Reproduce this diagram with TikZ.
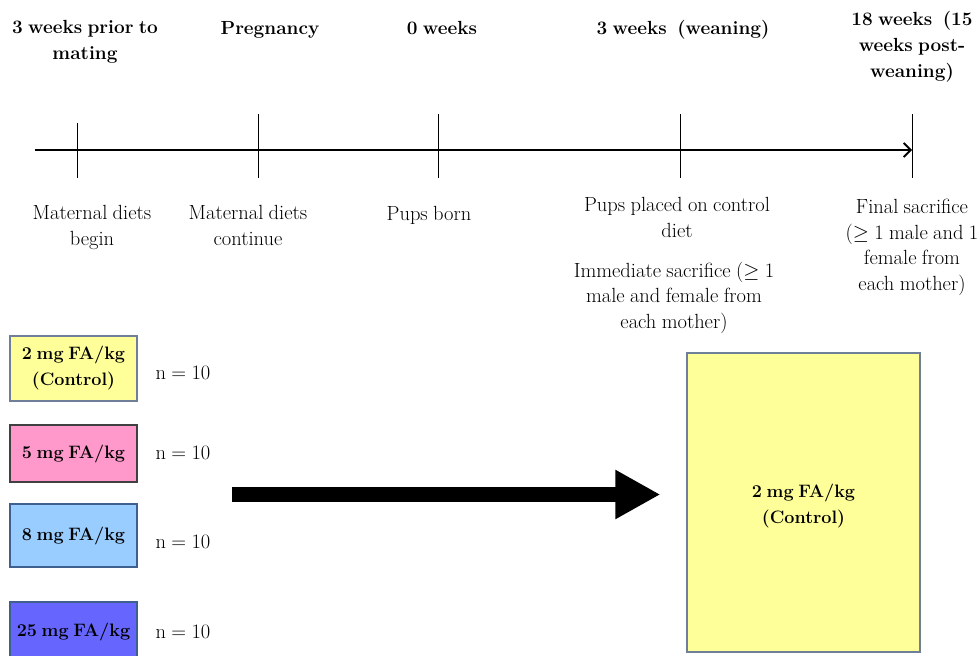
\documentclass[tikz,border=0pt]{standalone}
\usetikzlibrary{arrows.meta}
\definecolor{cYellow}{HTML}{FFFF99}
\definecolor{cPink}{HTML}{FF99CC}
\definecolor{cLBlue}{HTML}{99CCFF}
\definecolor{cBlue}{HTML}{6666FF}
\definecolor{bYellow}{HTML}{6F7F99}
\definecolor{bPink}{HTML}{404040}
\definecolor{bBlue}{HTML}{3F5F8F}
\newcommand{\hdrfont}{\fontsize{19}{26}\selectfont\bfseries\spaceskip=0.28em plus 0.1em}
\newcommand{\lblfont}{\fontsize{20.5}{25.5}\selectfont\spaceskip=0.26em plus 0.1em}
\newcommand{\boxfont}{\fontsize{18}{26}\selectfont\bfseries\spaceskip=0.26em plus 0.1em}
\tikzset{
  hdr/.style={font=\hdrfont, align=center, inner sep=0pt, anchor=base},
  lbl/.style={font=\lblfont, align=center, inner sep=0pt, anchor=base},
  diet/.style={draw, line width=1.2pt, font=\boxfont, align=center, inner sep=0pt, minimum width=127pt},
  nlbl/.style={font=\lblfont, inner sep=0pt},
  tick/.style={line width=1pt},
}
\begin{document}
\begin{tikzpicture}[x=1pt,y=1pt]
\useasboundingbox (0,0) rectangle (980,-656);
\clip (0,0) rectangle (980,-656);
% headers (anchor = baseline of the last line)
\node[hdr] (h1) at (85,-59.5) {3 weeks prior to\\mating};
\node[hdr] (h2) at (270,-34) {Pregnancy};
\node[hdr] (h3) at (442,-34) {0 weeks};
\node[hdr] (h4) at (683,-34) {3 weeks\ \ (weaning)};
\node[hdr] (h5) at (912,-77) {18 weeks\ \ (15\\weeks post-\\weaning)};
% timeline
\coordinate (tl0) at (35,-150);
\coordinate (tl1) at (912,-150);
\draw[line width=1.8pt, -{Straight Barb[length=7pt,width=14pt,line width=1.8pt]}] (tl0) -- (tl1);
\foreach \n/\x/\t in {a/77/-123, b/258/-114, c/438/-114, d/680/-114, e/912/-114}{
  \coordinate (tk\n top) at (\x,\t);
  \coordinate (tk\n bot) at (\x,-178);
  \draw[tick] (tk\n top) -- (tk\n bot);
}
% labels below timeline (anchor = baseline of the last line)
\node[lbl] (l1) at (92,-245) {Maternal diets\\begin};
\node[lbl] (l2) at (248,-245) {Maternal diets\\continue};
\node[lbl] (l3) at (429,-220.5) {Pups born};
\node[lbl] (l4) at (677,-237) {Pups placed on control\\diet};
\node[lbl] (l5) at (674,-328) {Immediate sacrifice ($\geq$ 1\\male and female from\\each mother)};
\node[lbl] (l6) at (912,-290) {Final sacrifice\\($\geq$ 1 male and 1\\female from\\each mother)};
% diet boxes
\node[diet, fill=cYellow, draw=bYellow, minimum height=65pt] (b1) at (73.5,-368.5) {2 mg FA/kg\\(Control)};
\node[diet, fill=cPink, draw=bPink, minimum height=57pt] (b2) at (73.5,-453.5) {5 mg FA/kg};
\node[diet, fill=cLBlue, draw=bBlue, minimum height=63pt] (b3) at (73.5,-535.5) {8 mg FA/kg};
\node[diet, fill=cBlue, draw=bBlue, minimum height=60pt] (b4) at (73.5,-632) {25 mg FA/kg};
\node[nlbl] (n1) at (183,-373) {n = 10};
\node[nlbl] (n2) at (183,-453) {n = 10};
\node[nlbl] (n3) at (183,-542) {n = 10};
\node[nlbl] (n4) at (183,-632) {n = 10};
% big box
\node[diet, fill=cYellow, draw=bYellow, minimum width=233pt, minimum height=299pt] (big) at (803.5,-502.5) {};
\node[font=\boxfont, align=center, inner sep=0pt] (bigtxt) at (803.5,-506) {2 mg FA/kg\\(Control)};
% big arrow
\coordinate (arrS) at (232,-494.5);
\draw[line width=15pt, -{Triangle[length=45pt,width=46pt]}, shorten >=26pt] (arrS) -- (arrS -| big.west);
\end{tikzpicture}
\end{document}
